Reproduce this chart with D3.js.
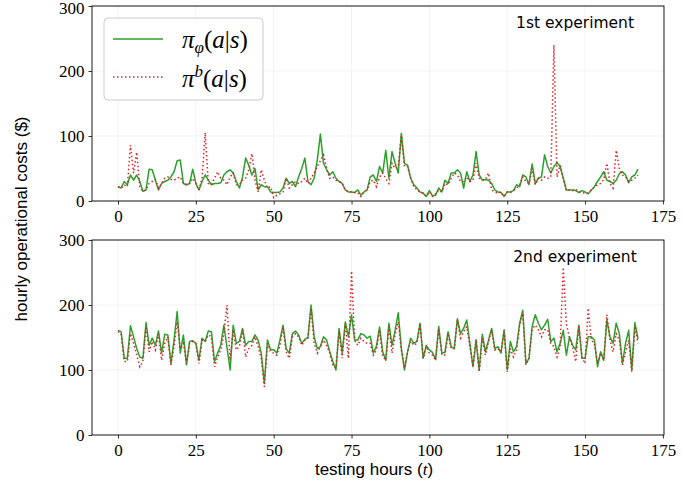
<!DOCTYPE html>
<html><head><meta charset="utf-8">
<script src="https://cdn.jsdelivr.net/npm/d3@7"></script>
<style>body{margin:0;background:#fff}</style>
</head><body>
<script>
const hours = d3.range(168);
const xTicks = [0,25,50,75,100,125,150,175];
const yTicks = [0,100,200,300];
const panelLabels = ["1st experiment","2nd experiment"];
const seriesNames = ["pi_phi","pi_b"];

const exp1Policy = [22,20,30,25,40,32,40,30,15,17,49,48,32,17,27,30,32,37,45,62,63,27,25,27,49,27,17,30,40,32,25,27,27,28,40,45,48,43,30,20,37,66,55,40,50,17,25,22,22,14,13,13,14,20,35,27,30,22,37,50,66,30,25,35,63,103,58,48,40,45,35,30,27,17,14,14,13,17,9,14,17,37,40,30,53,43,78,35,76,58,43,104,58,55,35,25,20,14,12,7,16,8,9,20,14,32,27,43,43,48,43,20,45,30,40,76,40,32,33,32,27,17,14,13,7,14,14,16,25,22,40,37,25,57,27,35,37,71,53,43,53,59,53,35,17,17,17,16,13,16,14,11,17,22,30,37,45,32,30,27,32,42,45,40,28,37,40,49];
const exp1Base = [22,20,25,22,86,43,75,22,15,17,27,30,33,20,27,35,37,33,32,35,37,27,25,27,35,27,17,35,105,27,25,35,45,35,32,25,37,43,25,25,32,35,48,73,32,14,48,32,20,22,5,9,11,14,35,20,25,30,27,30,35,27,35,43,53,62,71,50,35,37,32,30,27,17,14,14,13,13,7,14,17,30,32,22,37,43,35,27,58,50,53,101,53,53,35,22,17,14,12,7,14,7,11,17,14,27,25,35,43,40,30,30,37,30,32,58,35,32,33,43,17,14,12,14,7,14,13,16,20,25,37,30,27,50,25,35,32,37,35,37,240,37,55,35,16,17,16,18,14,13,12,12,17,21,25,27,33,58,27,20,78,50,40,37,30,32,35,40];
const exp2Policy = [161,159,118,118,168,151,133,120,118,173,138,149,138,160,126,155,154,110,146,190,126,154,108,144,145,141,115,149,144,160,159,113,126,138,169,135,100,169,141,144,164,138,144,144,154,146,126,80,146,131,131,126,146,169,133,126,156,160,154,141,147,150,200,151,133,136,151,146,128,113,100,164,126,174,151,185,146,146,156,154,149,152,126,137,166,128,115,172,138,161,188,133,100,128,149,141,144,172,118,138,131,127,116,167,126,127,159,136,133,179,156,164,177,141,105,146,100,155,128,146,164,133,136,126,162,100,144,128,136,172,192,110,118,167,185,172,162,169,178,144,149,128,141,161,123,151,138,131,169,118,118,151,151,146,105,128,115,177,151,141,172,156,110,141,161,100,173,148];
const exp2Base = [159,156,113,113,156,141,123,105,113,167,128,144,131,156,115,141,151,108,136,174,133,141,110,141,144,141,110,146,144,154,151,105,120,131,156,200,115,162,131,136,162,120,133,138,151,136,118,74,141,128,126,123,138,167,128,118,151,156,151,138,146,149,195,141,126,136,146,138,126,108,103,159,118,172,118,252,146,138,149,144,141,141,123,131,162,121,115,167,126,154,174,131,103,128,144,138,141,172,118,136,126,123,115,164,123,123,156,133,133,177,149,159,167,136,105,147,97,149,123,144,162,131,133,128,159,97,133,120,131,169,187,108,118,162,169,162,151,162,162,141,136,120,136,258,170,150,135,113,167,120,110,195,146,141,110,126,115,185,146,128,156,146,108,128,146,97,167,141];

const W = 683, H = 495;
const svg = d3.select("body").append("svg").attr("width", W).attr("height", H)
  .style("font-family","'Liberation Serif', serif");

const x = d3.scaleLinear().domain([-8.35, 175.35]).range([92, 664]);
const panels = [
  {top:6, bottom:201, a:exp1Policy, b:exp1Base, label:panelLabels[0]},
  {top:240, bottom:435, a:exp2Policy, b:exp2Base, label:panelLabels[1]}
];

panels.forEach((p, i) => {
  const y = d3.scaleLinear().domain([0,300]).range([p.bottom, p.top]);
  const g = svg.append("g");
  g.selectAll(".gx").data(xTicks).join("line")
    .attr("x1", d=>x(d)).attr("x2", d=>x(d)).attr("y1", p.top).attr("y2", p.bottom)
    .attr("stroke","#b0b0b0").attr("stroke-opacity",0.2).attr("stroke-width",0.8);
  g.selectAll(".gy").data(yTicks).join("line")
    .attr("x1", 92).attr("x2", 664).attr("y1", d=>y(d)).attr("y2", d=>y(d))
    .attr("stroke","#b0b0b0").attr("stroke-opacity",0.2).attr("stroke-width",0.8);

  const line = arr => d3.line().x((d,k)=>x(hours[k])).y(d=>y(d))(arr);
  g.append("path").attr("d", line(p.a)).attr("fill","none")
    .attr("stroke","#2ca02c").attr("stroke-width",1.5).attr("stroke-linejoin","round");
  g.append("path").attr("d", line(p.b)).attr("fill","none")
    .attr("stroke","#d62728").attr("stroke-width",1.5).attr("stroke-dasharray","1.5,2.5");

  const xa = g.append("g").attr("transform",`translate(0,${p.bottom})`)
    .call(d3.axisBottom(x).tickValues(xTicks).tickSize(3.5).tickPadding(4).tickFormat(d3.format("d")));
  const ya = g.append("g").attr("transform",`translate(92,0)`)
    .call(d3.axisLeft(y).tickValues(yTicks).tickSize(3.5).tickPadding(4));
  [xa, ya].forEach(a => {
    a.select(".domain").remove();
    a.selectAll("line").attr("stroke","#000").attr("stroke-width",0.8);
    a.selectAll("text").attr("font-family","'Liberation Serif', serif").attr("font-size",17).attr("fill","#000");
  });
  xa.selectAll("text").attr("dy","0.8em");
  if (i === 0) ya.selectAll("text").filter(d => d === 300).attr("dy","0.42em");
  g.append("rect").attr("x",92).attr("y",p.top).attr("width",572).attr("height",p.bottom-p.top)
    .attr("fill","none").attr("stroke","#000").attr("stroke-width",0.9);

  g.append("text").attr("x",575).attr("y",p.top+22).attr("text-anchor","middle")
    .attr("font-family","'DejaVu Sans', sans-serif").attr("font-size",15.5).text(p.label);
});

// legend
const lg = svg.append("g");
lg.append("rect").attr("x",104).attr("y",18).attr("width",159).attr("height",82).attr("rx",4)
  .attr("fill","#fff").attr("fill-opacity",0.8).attr("stroke","#ccc").attr("stroke-width",1);
lg.append("line").attr("x1",113).attr("x2",163).attr("y1",39).attr("y2",39)
  .attr("stroke","#2ca02c").attr("stroke-width",1.5);
lg.append("line").attr("x1",113).attr("x2",163).attr("y1",77).attr("y2",77)
  .attr("stroke","#d62728").attr("stroke-width",1.5).attr("stroke-dasharray","1.5,2.5");
const t1 = lg.append("text").attr("x",182).attr("y",48).attr("font-size",25).attr("font-family","'Liberation Serif', serif");
t1.append("tspan").attr("font-style","italic").text("π");
t1.append("tspan").attr("font-style","italic").attr("font-size",17).attr("dy",5).text("φ");
t1.append("tspan").attr("dy",-5).text("(");
t1.append("tspan").attr("font-style","italic").text("a");
t1.append("tspan").text("|");
t1.append("tspan").attr("font-style","italic").text("s");
t1.append("tspan").text(")");
const t2 = lg.append("text").attr("x",182).attr("y",87).attr("font-size",25).attr("font-family","'Liberation Serif', serif");
t2.append("tspan").attr("font-style","italic").text("π");
t2.append("tspan").attr("font-style","italic").attr("font-size",17).attr("dy",-10).text("b");
t2.append("tspan").attr("dy",10).text("(");
t2.append("tspan").attr("font-style","italic").text("a");
t2.append("tspan").text("|");
t2.append("tspan").attr("font-style","italic").text("s");
t2.append("tspan").text(")");

svg.append("text").attr("transform","translate(27,219) rotate(-90)").attr("text-anchor","middle")
  .attr("font-family","'Liberation Sans', Arial, sans-serif").attr("font-size",17).text("hourly operational costs ($)");
const xt = svg.append("text").attr("x",374).attr("y",475).attr("text-anchor","middle")
  .attr("font-family","'Liberation Sans', Arial, sans-serif").attr("font-size",17);
xt.append("tspan").text("testing hours (");
xt.append("tspan").attr("font-family","'Liberation Serif', serif").attr("font-style","italic").text("t");
xt.append("tspan").text(")");
</script>
</body></html>
